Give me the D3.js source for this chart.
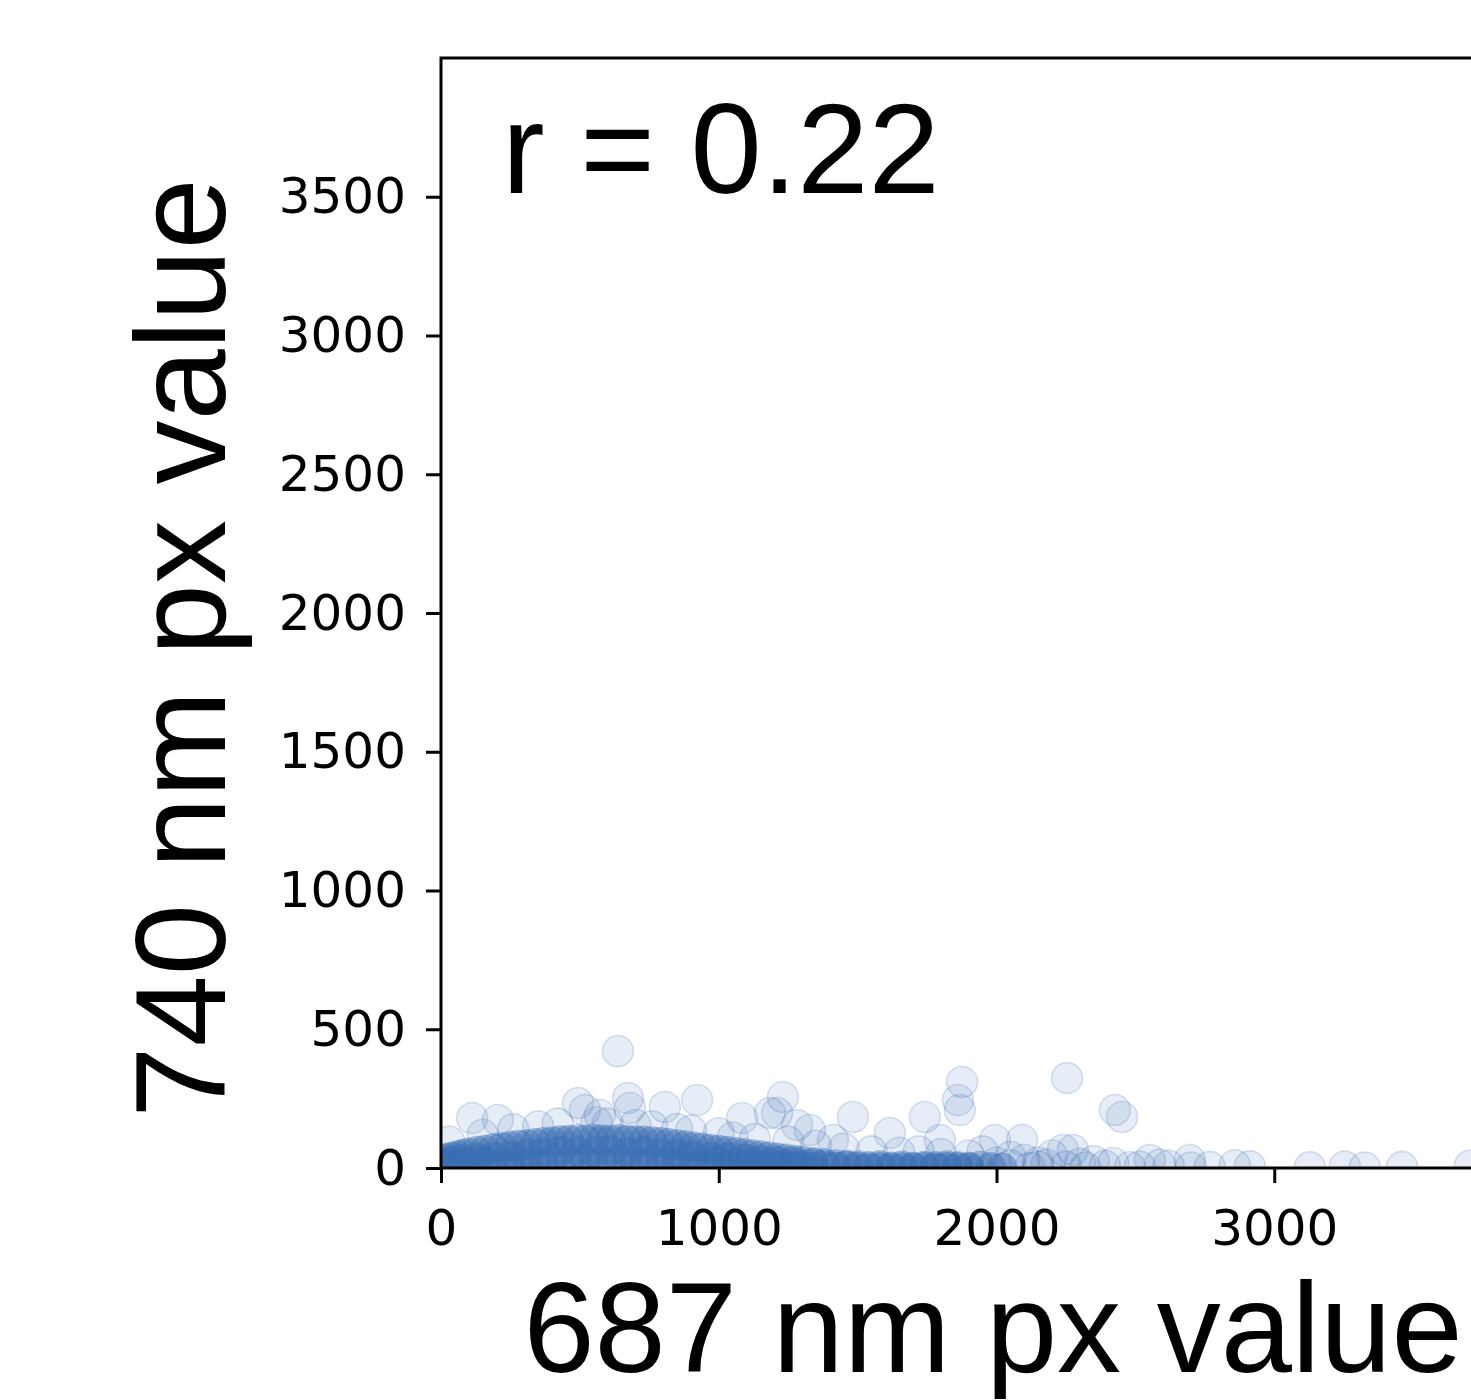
<!DOCTYPE html>
<html>
<head>
<meta charset="utf-8">
<script src="https://cdn.jsdelivr.net/npm/d3@7"></script>
<style>
  html, body { margin: 0; padding: 0; background: #fff; }
  svg { display: block; }
</style>
</head>
<body>
<svg id="chart" width="1471" height="1400"></svg>
<script>
// Pixel intensities: 687 nm channel (x) against 740 nm channel (y)
const xTicks = [0, 1000, 2000, 3000];
const yTicks = [0, 500, 1000, 1500, 2000, 2500, 3000, 3500];
const xTitle = "687 nm px value";
const yTitle = "740 nm px value";
const rLabel = "r = 0.22";

// dense cluster of low-valued pixels
const denseX = [0,0,0,20,20,40,40,40,60,60,80,80,80,100,100,130,130,130,160,160,190,190,190,220,220,250,250,250,280,280,310,310,310,340,340,370,370,370,400,400,430,430,430,460,460,490,490,490,520,520,550,550,550,580,580,610,610,610,640,640,670,670,670,700,700,730,730,730,760,760,790,790,790,820,820,850,850,850,880,880,910,910,910,940,940,970,970,970,1000,1000,1030,1030,1030,1060,1060,1090,1090,1090,1120,1120,1150,1150,1150,1180,1180,1210,1210,1210,1240,1240,1270,1270,1270,1300,1300,1340,1340,1340,1380,1380,1420,1420,1460,1460,1500,1500,1540,1540,1580,1580,1620,1620,1660,1660,1700,1700,1740,1740,1780,1780,1820,1820,1860,1860,1900,1900,1940,1980,2020];
const denseY = [5,20,31,10,35,2,25,40,12,44,4,30,50,15,54,6,35,60,20,64,3,40,70,18,74,8,45,78,25,82,5,50,85,20,88,10,55,92,28,95,4,60,98,22,100,12,62,102,30,100,6,58,104,24,101,14,64,100,32,103,3,55,100,20,98,10,60,97,28,95,5,52,92,22,88,12,50,84,30,80,4,45,76,20,72,10,40,68,25,64,6,38,60,18,56,8,32,52,20,48,3,28,44,14,40,6,24,36,12,32,4,20,28,10,25,2,15,20,8,16,3,12,6,10,2,8,5,0,2,9,4,0,1,7,3,0,6,2,0,5,2,8,5,1,3,0,6,2,0];

// scattered pixels around and above the cluster
const sparseX = [637,112,205,493,518,572,673,680,806,922,1084,1184,1231,1210,1282,1328,1411,1483,1616,1742,1796,1876,1861,1868,1994,2092,2254,2426,2452,2239,2275,2552,2696,
  2390,2516,2588,2768,2858,2912,3128,3254,3326,3460,3704,
  30,150,260,350,420,560,600,700,760,850,900,1000,1050,1130,1250,1350,1450,1550,1650,1720,1800,1900,1950,2050,2100,2150,2200,2300,2350,2150,2050,2000,2120,2180,2250,2320,2420,2480,2620,2700];
const sparseY = [421,180,173,234,209,191,252,216,220,245,180,198,256,198,155,137,101,184,126,184,101,310,245,209,101,101,324,209,184,65,65,29,29,
  8,5,12,4,10,6,3,5,2,4,8,
  95,120,140,150,160,165,160,155,150,140,135,125,110,105,95,80,70,60,55,60,50,45,60,40,30,20,45,15,25,5,10,20,0,12,5,2,18,3,8,2];

const svg = d3.select("#chart");
const plotLeft = 441, plotTop = 58, plotRight = 1552, plotBottom = 1168;

const x = d3.scaleLinear().domain([0, 4000]).range([plotLeft, plotRight]);
const y = d3.scaleLinear().domain([0, 4000]).range([plotBottom, plotTop]);

const color = "#3a6db3";
const radius = 15.5;

svg.append("defs").append("clipPath").attr("id", "plot-clip")
  .append("rect").attr("x", plotLeft).attr("y", plotTop)
  .attr("width", plotRight - plotLeft).attr("height", plotBottom - plotTop);

const plot = svg.append("g").attr("clip-path", "url(#plot-clip)");

const dense = d3.range(Math.min(denseX.length, denseY.length)).map(i => [denseX[i], denseY[i]]);
const sparse = d3.range(Math.min(sparseX.length, sparseY.length)).map(i => [sparseX[i], sparseY[i]]);

plot.append("g").selectAll("circle").data(dense).join("circle")
  .attr("cx", d => x(d[0])).attr("cy", d => y(d[1])).attr("r", radius)
  .attr("fill", color).attr("fill-opacity", 0.42);

plot.append("g").selectAll("circle").data(sparse).join("circle")
  .attr("cx", d => x(d[0])).attr("cy", d => y(d[1])).attr("r", radius)
  .attr("fill", color).attr("fill-opacity", 0.12)
  .attr("stroke", color).attr("stroke-opacity", 0.2).attr("stroke-width", 1.6);

// frame
svg.append("rect").attr("x", plotLeft).attr("y", plotTop)
  .attr("width", plotRight - plotLeft).attr("height", plotBottom - plotTop)
  .attr("fill", "none").attr("stroke", "#000").attr("stroke-width", 3);

const tickFont = "'DejaVu Sans', sans-serif";

const xAxis = svg.append("g").attr("transform", `translate(0,${plotBottom})`)
  .call(d3.axisBottom(x).tickValues(xTicks).tickFormat(d3.format("d")).tickSize(15).tickPadding(26));
const yAxis = svg.append("g").attr("transform", `translate(${plotLeft},0)`)
  .call(d3.axisLeft(y).tickValues(yTicks).tickFormat(d3.format("d")).tickSize(15).tickPadding(20));

[xAxis, yAxis].forEach(a => {
  a.select(".domain").remove();
  a.selectAll(".tick line").attr("stroke", "#000").attr("stroke-width", 3);
  a.selectAll(".tick text").attr("fill", "#000")
    .style("font-family", tickFont).style("font-size", "50px");
});

const titleFont = "'Liberation Sans', Arial, sans-serif";

svg.append("text").attr("x", 993).attr("y", 1372)
  .attr("text-anchor", "middle")
  .style("font-family", titleFont).style("font-size", "128px")
  .text(xTitle);

svg.append("text").attr("transform", "translate(225,648) rotate(-90)")
  .attr("text-anchor", "middle")
  .style("font-family", titleFont).style("font-size", "128px")
  .text(yTitle);

svg.append("text").attr("x", 502).attr("y", 193)
  .style("font-family", titleFont).style("font-size", "128px")
  .text(rLabel);
</script>
</body>
</html>
